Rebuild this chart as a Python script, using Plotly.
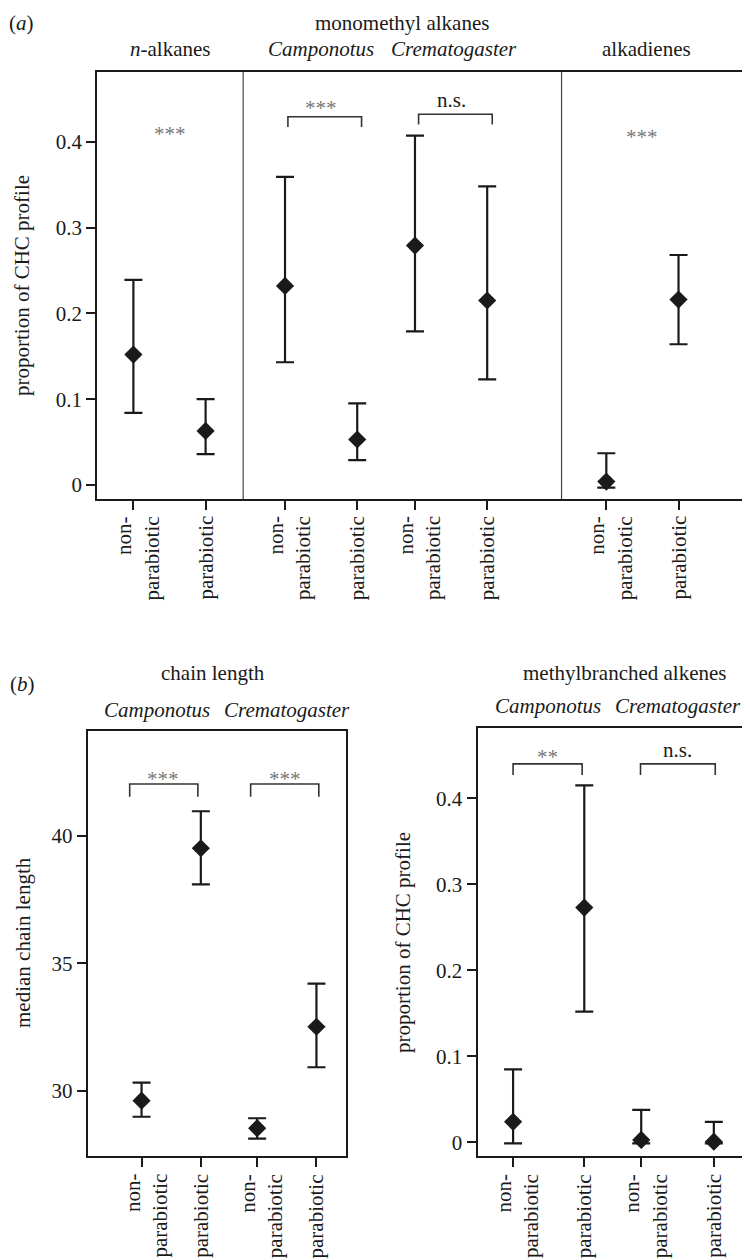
import plotly.graph_objects as go

# ---- data ----
tick_names = ["non-<br>parabiotic", "parabiotic"]

# (a) top panel: n-alkanes, monomethyl alkanes (Camponotus, Crematogaster), alkadienes
top_groups = ["<i>n</i>-alkanes", "<i>Camponotus</i>", "<i>Crematogaster</i>", "alkadienes"]
top_mean = [0.152, 0.063, 0.232, 0.053, 0.279, 0.215, 0.004, 0.216]
top_upper = [0.239, 0.100, 0.359, 0.095, 0.407, 0.348, 0.037, 0.268]
top_lower = [0.084, 0.036, 0.143, 0.029, 0.179, 0.123, -0.003, 0.164]
top_sig = ["***", "***", "n.s.", "***"]

# (b) chain length
cl_groups = ["<i>Camponotus</i>", "<i>Crematogaster</i>"]
cl_mean = [29.62, 39.52, 28.54, 32.52]
cl_upper = [30.33, 40.97, 28.93, 34.21]
cl_lower = [28.99, 38.10, 28.13, 30.93]
cl_sig = ["***", "***"]

# (b) methylbranched alkenes
mb_groups = ["<i>Camponotus</i>", "<i>Crematogaster</i>"]
mb_mean = [0.024, 0.273, 0.003, 0.001]
mb_upper = [0.085, 0.415, 0.038, 0.024]
mb_lower = [-0.001, 0.152, -0.001, -0.001]
mb_sig = ["**", "n.s."]

# x positions of the categories on each panel
top_x = [1, 2, 3.1, 4.1, 4.9, 5.9, 7.55, 8.55]
cl_x = [1, 2, 2.95, 3.95]
mb_x = [1, 2, 2.8, 3.82]

FONT = "Liberation Serif"
FS = 21
INK = "#1a1a1a"
W, H = 750, 1260
OFF = 8  # page body margin, positions below are page pixels


def px(x):
    return (x - OFF) / W


def py(y):
    return 1 - (y - OFF) / H


def points(fig, xs, mean, upper, lower, xa, ya):
    fig.add_trace(go.Scatter(
        x=xs, y=mean, mode="markers", xaxis=xa, yaxis=ya,
        marker=dict(symbol="diamond", size=14, color=INK),
        error_y=dict(
            type="data", symmetric=False,
            array=[u - m for u, m in zip(upper, mean)],
            arrayminus=[m - l for m, l in zip(mean, lower)],
            color=INK, thickness=2.2, width=9),
        showlegend=False, hoverinfo="skip"))


def bracket(fig, x0, x1, ytop, yleg, xr, yr):
    fig.add_shape(type="path", xref=xr, yref=yr,
                  path=f"M {x0},{yleg} L {x0},{ytop} L {x1},{ytop} L {x1},{yleg}",
                  line=dict(color="#333", width=1.6))


def sig(fig, text, x, y, xr, yr):
    star = "*" in text
    fig.add_annotation(x=x, y=y, xref=xr, yref=yr, text=text, showarrow=False,
                       font=dict(family=FONT, size=FS, color="#777" if star else INK),
                       yanchor="middle", yshift=-3 if star else 0)


def tick_labels(fig, xs, xr, ytop):
    # rotated two-line category labels hanging below the axis
    for i, xv in enumerate(xs):
        text = tick_names[i % 2]
        fig.add_annotation(x=xv, y=py(ytop), xref=xr, yref="paper", text=text,
                           showarrow=False, textangle=-90, align="right",
                           xanchor="center", yanchor="top",
                           xshift=4 if "<br>" in text else 0,
                           font=dict(family=FONT, size=FS, color=INK))


def ytitle(fig, text, x, y):
    fig.add_annotation(x=px(x), y=py(y), xref="paper", yref="paper", text=text,
                       showarrow=False, textangle=-90, xanchor="center", yanchor="middle",
                       font=dict(family=FONT, size=FS, color=INK))


fig = go.Figure()
points(fig, top_x, top_mean, top_upper, top_lower, "x", "y")
points(fig, cl_x, cl_mean, cl_upper, cl_lower, "x2", "y2")
points(fig, mb_x, mb_mean, mb_upper, mb_lower, "x3", "y3")

axis_common = dict(showline=True, linecolor=INK, linewidth=2, mirror=True,
                   ticks="outside", ticklen=9, tickwidth=2, tickcolor=INK,
                   showgrid=False, zeroline=False,
                   tickfont=dict(family=FONT, size=FS, color=INK))
yt = [0, 0.1, 0.2, 0.3, 0.4]
ytt = ["0", "0.1", "0.2", "0.3", "0.4"]

fig.update_layout(
    width=W, height=H, margin=dict(l=0, r=0, t=0, b=0),
    paper_bgcolor="white", plot_bgcolor="white",
    font=dict(family=FONT, size=FS, color=INK),
    xaxis=dict(axis_common, domain=[px(97.3), px(743.5)], range=[0.5, 9.45],
               tickvals=top_x, showticklabels=False, anchor="y"),
    yaxis=dict(axis_common, domain=[py(499), py(72)], range=[-0.0163, 0.4812],
               tickvals=yt, ticktext=ytt, anchor="x"),
    xaxis2=dict(axis_common, domain=[px(87.6), px(345.5)], range=[0.09, 4.44],
                tickvals=cl_x, showticklabels=False, anchor="y2"),
    yaxis2=dict(axis_common, domain=[py(1156), py(730.7)], range=[27.45, 44.13],
                tickvals=[30, 35, 40], anchor="x2"),
    xaxis3=dict(axis_common, domain=[px(477.5), px(748)], range=[0.5, 4.3],
                tickvals=mb_x, showticklabels=False, anchor="y3"),
    yaxis3=dict(axis_common, domain=[py(1156), py(728.3)], range=[-0.0157, 0.4813],
                tickvals=yt, ticktext=ytt, anchor="x3"),
)

tick_labels(fig, top_x, "x", 514)
tick_labels(fig, cl_x, "x2", 1172)
tick_labels(fig, mb_x, "x3", 1172)

ytitle(fig, "proportion of CHC profile", 22, 286)
ytitle(fig, "median chain length", 23, 943)
ytitle(fig, "proportion of CHC profile", 403, 942)

# dividers between the groups of panel (a)
for xd in [2.52, 6.93]:
    fig.add_shape(type="line", xref="x", yref="y domain", x0=xd, x1=xd, y0=0, y1=1,
                  line=dict(color="#444", width=1.2))

# significance marks, panel (a)
sig(fig, top_sig[0], 1.5, 0.412, "x", "y")
bracket(fig, 3.14, 4.16, 0.429, 0.417, "x", "y")
sig(fig, top_sig[1], 3.6, 0.443, "x", "y")
bracket(fig, 4.95, 5.97, 0.432, 0.420, "x", "y")
sig(fig, top_sig[2], 5.4, 0.449, "x", "y")
sig(fig, top_sig[3], 8.05, 0.409, "x", "y")

# significance marks, panel (b)
bracket(fig, 0.80, 1.95, 42.04, 41.54, "x2", "y2")
bracket(fig, 2.84, 3.99, 42.04, 41.54, "x2", "y2")
sig(fig, cl_sig[0], 1.37, 42.35, "x2", "y2")
sig(fig, cl_sig[1], 3.42, 42.35, "x2", "y2")
bracket(fig, mb_x[0], 1.97, 0.440, 0.427, "x3", "y3")
bracket(fig, 2.79, 3.84, 0.440, 0.427, "x3", "y3")
sig(fig, mb_sig[0], 1.48, 0.451, "x3", "y3")
sig(fig, mb_sig[1], 3.31, 0.456, "x3", "y3")

# panel headings
heads = [
    ("(<i>a</i>)", 21, 23),
    ("monomethyl alkanes", 402, 23),
    (top_groups[0], 170, 49),
    (top_groups[1], 321, 49),
    (top_groups[2], 454, 49),
    (top_groups[3], 646, 49),
    ("(<i>b</i>)", 22, 684),
    ("chain length", 213, 673),
    (cl_groups[0], 157, 710),
    (cl_groups[1], 287, 710),
    ("methylbranched alkenes", 625, 673),
    (mb_groups[0], 548, 706),
    (mb_groups[1], 678, 706),
]
for text, x, y in heads:
    fig.add_annotation(x=px(x), y=py(y), xref="paper", yref="paper", text=text,
                       showarrow=False, xanchor="center", yanchor="middle",
                       font=dict(family=FONT, size=FS, color=INK))

fig.write_html("out.html")
